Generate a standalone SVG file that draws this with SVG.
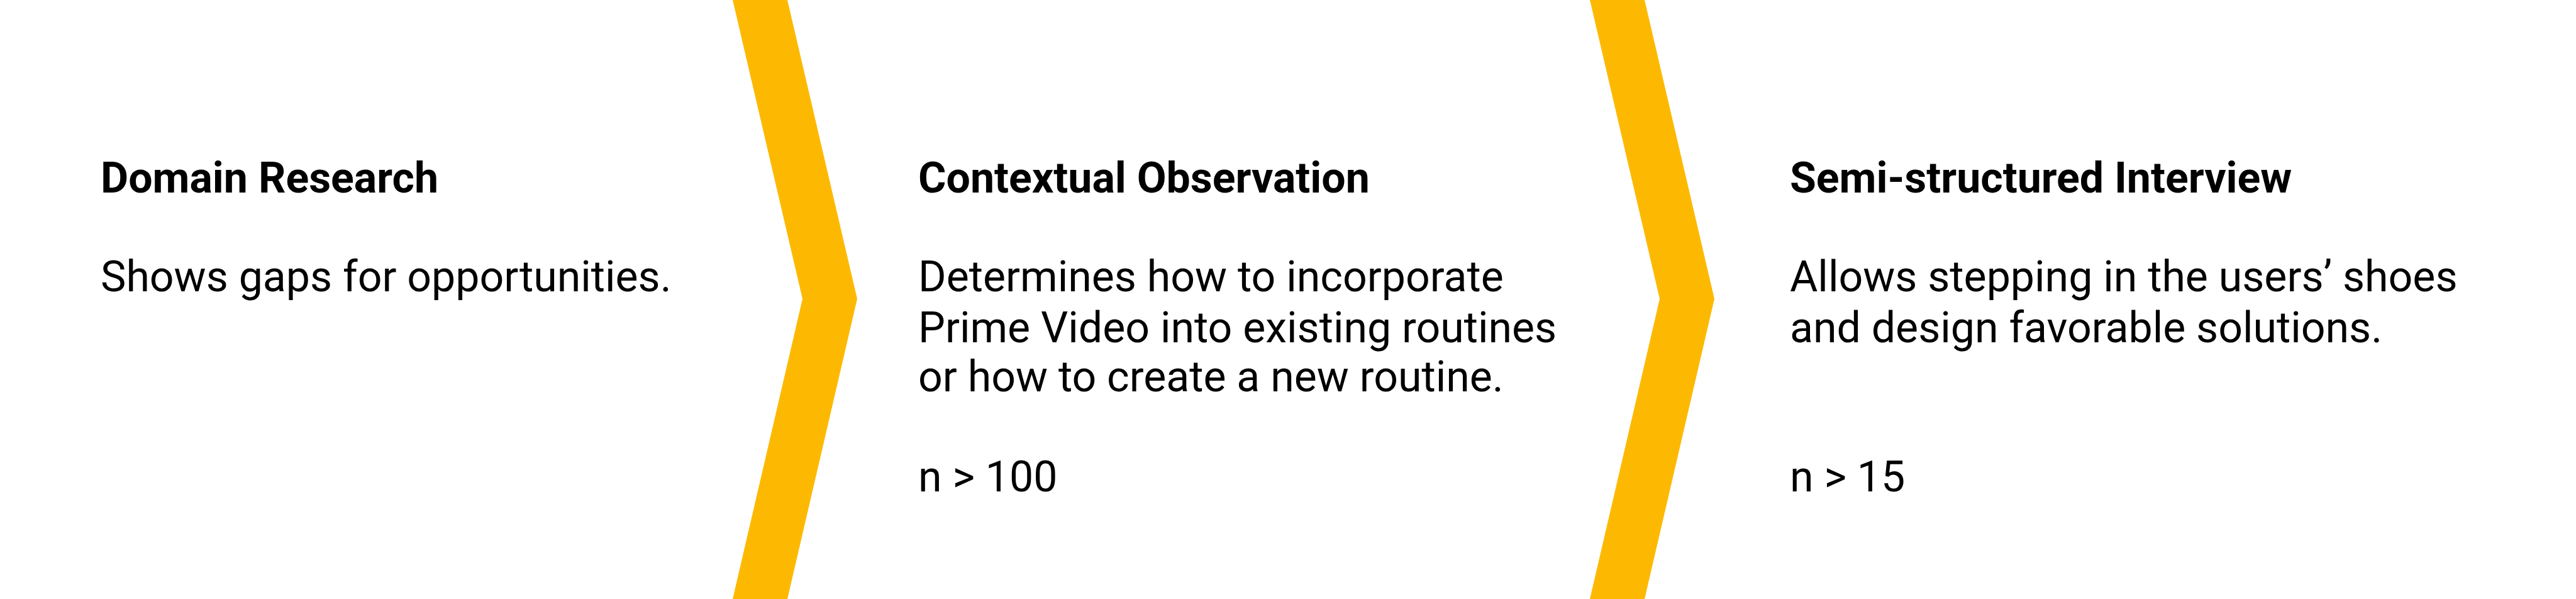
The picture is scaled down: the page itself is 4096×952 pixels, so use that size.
<svg xmlns="http://www.w3.org/2000/svg" width="4096" height="952" viewBox="0 0 4096 952">
<style>
.title{font-family:Roboto,"Liberation Sans",sans-serif;font-weight:700;font-size:68px;fill:#000}
.body{font-family:Roboto,"Liberation Sans",sans-serif;font-weight:400;font-size:68px;fill:#000}
.chev{fill:#FDB902}
</style>
<rect width="4096" height="952" fill="#fff"/>
<g id="connectors">
<polygon class="chev" points="1165,0 1252,0 1363,475 1252,952 1165,952 1276,475"/>
<polygon class="chev" points="2528,0 2615,0 2726,475 2615,952 2528,952 2639,475"/>
</g>
<g id="node-domain-research">
<text class="title" x="160" y="306">Domain Research</text>
<text class="body" x="160" y="463">Shows gaps for opportunities.</text>
</g>
<g id="node-contextual-observation">
<text class="title" x="1460" y="306">Contextual Observation</text>
<text class="body" x="1460" y="463">Determines how to incorporate</text>
<text class="body" x="1460" y="544">Prime Video into existing routines</text>
<text class="body" x="1460" y="622">or how to create a new routine.</text>
<text class="body" x="1460" y="781">n &gt; 100</text>
</g>
<g id="node-semi-structured-interview">
<text class="title" x="2846" y="306">Semi-structured Interview</text>
<text class="body" x="2846" y="463">Allows stepping in the users’ shoes</text>
<text class="body" x="2846" y="544">and design favorable solutions.</text>
<text class="body" x="2846" y="781">n &gt; 15</text>
</g>
</svg>
